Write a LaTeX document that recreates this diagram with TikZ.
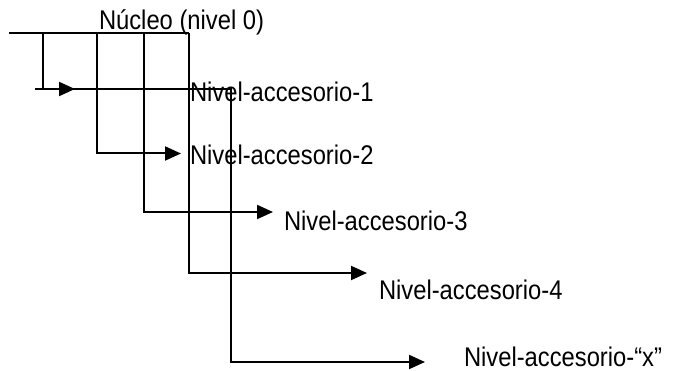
\documentclass[tikz,border=0pt]{standalone}
\usepackage{fontspec}
\setmainfont{Liberation Sans}[FakeStretch=0.88]
\usetikzlibrary{arrows.meta}
\tikzset{levellabel/.style = {anchor=base west, inner sep=0pt, font=\fontsize{27}{31}\selectfont}}

\begin{document}
\begin{tikzpicture}[x=1pt,y=-1pt,
  line width=2pt,
  conn/.style={-{Triangle[length=16pt,width=14pt]}}
  ]
  \useasboundingbox (0,0) rectangle (673,371);

  % the labels
  \node[levellabel] (nucleo) at (98,30) {Núcleo (nivel 0)};
  \foreach \i/\x/\y in {1/189/101.7,2/189/164.3,3/283/230.7,4/378/299.3}
  \node[levellabel] (n\i) at (\x,\y) {Nivel-accesorio-\i};
  \node[levellabel] (nx) at (463,366.7) {Nivel-accesorio-“x”};

  % the core line
  \coordinate (c0) at (9,33);
  \coordinate (c5) at (189,33);
  \draw (c0) -- (c5);

  % the branches
  \foreach \i/\x/\y/\t in {1/43/89/75,2/97/153.5/181,3/144/212/273,4/189/273/367}
  {
  \coordinate (b\i) at (\x,33);
  \coordinate (t\i) at (\t,\y);
  \draw[conn] (b\i) |- (t\i);
  }

  % the last branch
  \coordinate (bx) at (35,89);
  \coordinate (kx) at (231,89);
  \coordinate (tx) at (425,362);
  \draw[conn] (bx) -- (kx) |- (tx);
\end{tikzpicture}
\end{document}
